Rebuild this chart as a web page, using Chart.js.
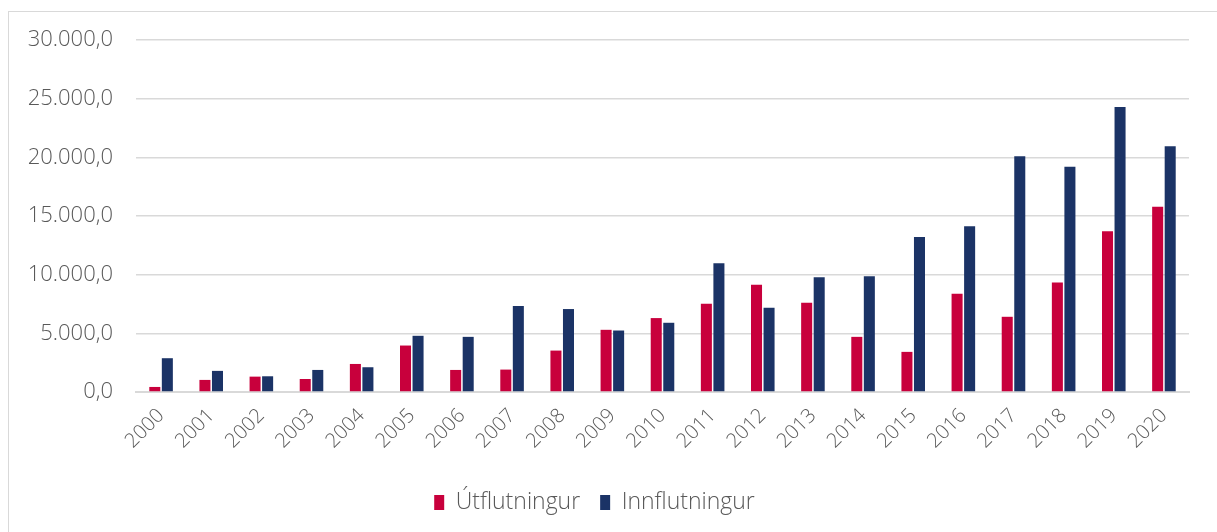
<!DOCTYPE html>
<html>
<head>
<meta charset="utf-8">
<script src="https://cdn.jsdelivr.net/npm/chart.js@4/dist/chart.umd.min.js"></script>
<style>
    html, body { margin: 0; padding: 0; background: #fff; overflow: hidden; }
    #wrap { position: relative; width: 1217px; height: 532px; }
    #frame {
        position: absolute; left: 8px; top: 11px; right: -4px; bottom: -4px;
        border: 1px solid #d9d9d9;
    }
    #chart { position: absolute; left: 0; top: 0; }
</style>
</head>
<body>
<div id="wrap">
    <div id="frame"></div>
    <canvas id="chart" width="1217" height="532"></canvas>
</div>
<script>
const years = ['2000', '2001', '2002', '2003', '2004', '2005', '2006', '2007', '2008', '2009',
    '2010', '2011', '2012', '2013', '2014', '2015', '2016', '2017', '2018', '2019', '2020'];
const exportsData = [430, 1030, 1310, 1110, 2390, 3960, 1880, 1910, 3530, 5300,
    6300, 7520, 9150, 7610, 4700, 3420, 8380, 6410, 9340, 13700, 15790];
const importsData = [2880, 1800, 1340, 1880, 2110, 4790, 4700, 7320, 7070, 5240,
    5900, 10970, 7180, 9770, 9860, 13220, 14130, 20100, 19200, 24300, 20940];
const seriesNames = ['Útflutningur', 'Innflutningur'];

const textColor = '#595959';
const gridColor = '#d9d9d9';
const fontFamily = '"Open Sans", "Noto Sans", sans-serif';

// 30000 -> "30.000,0"
function formatIs(v) {
    const parts = Number(v).toFixed(1).split('.');
    return parts[0].replace(/\B(?=(\d{3})+(?!\d))/g, '.') + ',' + parts[1];
}

new Chart(document.getElementById('chart'), {
    type: 'bar',
    data: {
        labels: years,
        datasets: [{
            label: seriesNames[0],
            data: exportsData,
            backgroundColor: '#c8003c',
            borderWidth: 0
        }, {
            label: seriesNames[1],
            data: importsData,
            backgroundColor: '#1b3366',
            borderWidth: 0
        }]
    },
    options: {
        responsive: false,
        animation: false,
        categoryPercentage: 0.5,
        barPercentage: 0.88,
        layout: {
            padding: { top: 40, right: 28, bottom: 8, left: 0 }
        },
        plugins: {
            legend: {
                position: 'bottom',
                labels: {
                    color: textColor,
                    boxWidth: 10,
                    boxHeight: 15,
                    padding: 20,
                    font: { family: fontFamily, size: 23, weight: 300 }
                }
            },
            tooltip: { enabled: false }
        },
        scales: {
            x: {
                grid: { display: false, drawTicks: false },
                border: { color: gridColor, width: 2 },
                ticks: {
                    color: textColor,
                    minRotation: 45,
                    maxRotation: 45,
                    padding: 12,
                    font: { family: fontFamily, size: 20, weight: 300 }
                },
                afterFit: function (axis) { axis.height = 79; }
            },
            y: {
                min: 0,
                max: 30000,
                grid: { color: gridColor, lineWidth: 1.5, drawTicks: false },
                border: { display: false },
                ticks: {
                    stepSize: 5000,
                    color: textColor,
                    padding: 23,
                    font: { family: fontFamily, size: 22, weight: 300 },
                    callback: function (value) { return formatIs(value); }
                },
                afterFit: function (axis) { axis.width = 136; }
            }
        }
    }
});
</script>
</body>
</html>
